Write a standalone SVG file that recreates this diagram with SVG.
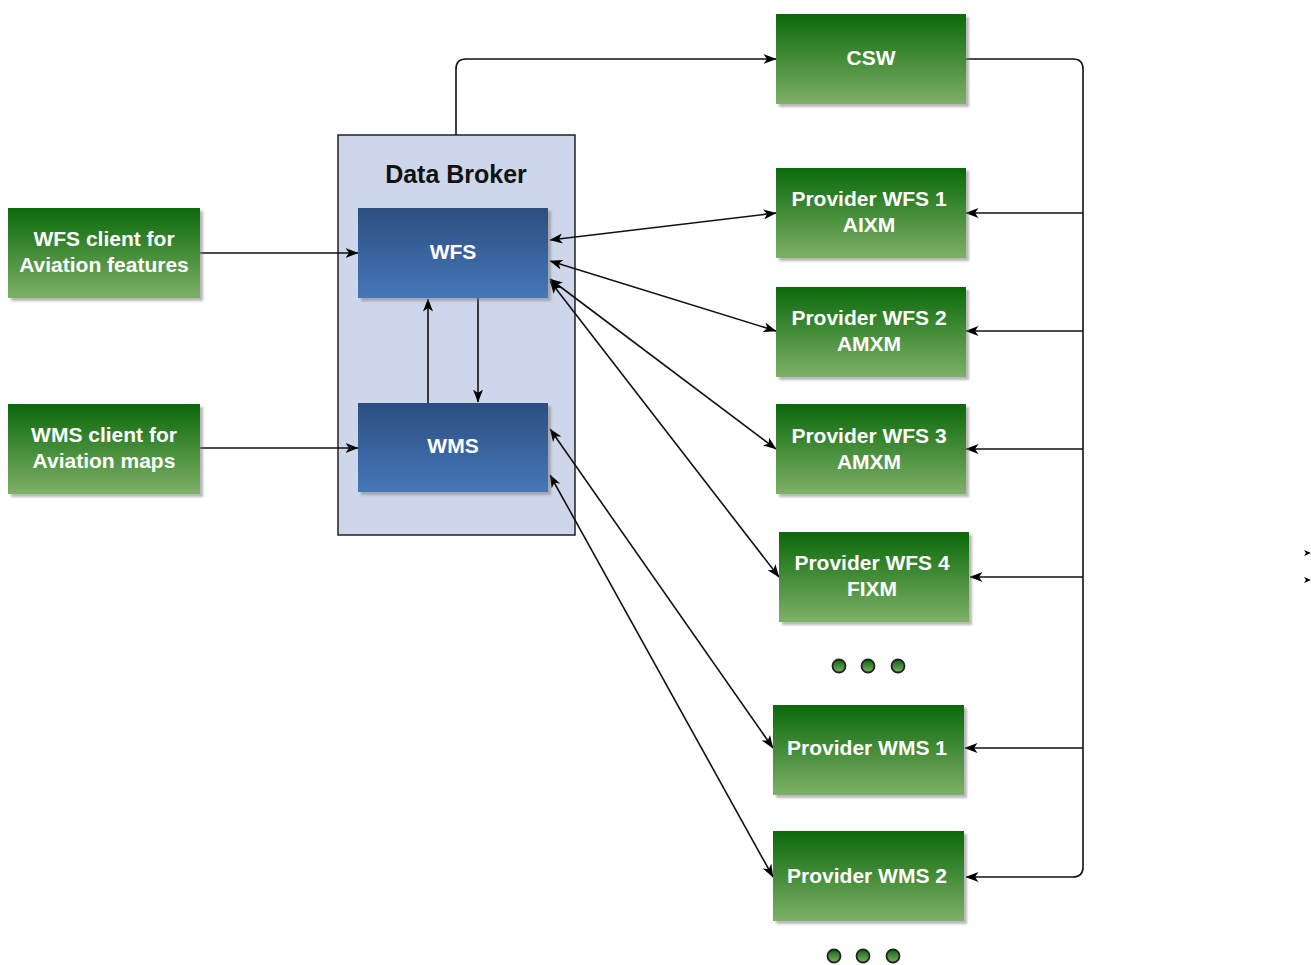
<svg xmlns="http://www.w3.org/2000/svg" width="1311" height="965" viewBox="0 0 1311 965">
  <defs>
    <linearGradient id="gGreen" x1="0" y1="0" x2="0" y2="1">
      <stop offset="0" stop-color="#0a690a"/>
      <stop offset="1" stop-color="#7eb067"/>
    </linearGradient>
    <linearGradient id="gBlue" x1="0" y1="0" x2="0" y2="1">
      <stop offset="0" stop-color="#2c4e7f"/>
      <stop offset="1" stop-color="#4577ba"/>
    </linearGradient>
    <filter id="soft" x="-10%" y="-10%" width="130%" height="130%">
      <feGaussianBlur stdDeviation="0.8"/>
    </filter>
    <marker id="arr" viewBox="0 0 13 10" refX="12.5" refY="5" markerWidth="13" markerHeight="10" markerUnits="userSpaceOnUse" orient="auto-start-reverse">
      <path d="M0,0 L13,5 L0,10 L3.5,5 Z" fill="#000"/>
    </marker>
  </defs>
  <style>
    .box { fill: url(#gGreen); }
    .inner { fill: url(#gBlue); }
    .shadow { fill: #7f7f7f; opacity: 0.55; filter: url(#soft); }
    .lbl { font-family: "Liberation Sans", Arial, sans-serif; font-weight: bold; font-size: 21px; fill: #ffffff; text-anchor: middle; }
    .title { font-family: "Liberation Sans", Arial, sans-serif; font-weight: bold; font-size: 25px; fill: #111111; text-anchor: middle; }
    .wire { fill: none; stroke: #111; stroke-width: 1.6; }
    .dot { fill: url(#gGreen); stroke: #222; stroke-width: 1.8; }
  </style>

  <rect width="1311" height="965" fill="#ffffff"/>

  <!-- Data Broker container -->
  <g id="data-broker">
    <rect x="338" y="135" width="237" height="400" fill="#cdd6ea" stroke="#222" stroke-width="1.5"/>
    <text class="title" x="456" y="183">Data Broker</text>
  </g>

  <!-- connectors -->
  <g id="connectors">
    <!-- clients into broker -->
    <path class="wire" d="M200,253 L358,253" marker-end="url(#arr)"/>
    <path class="wire" d="M200,448 L358,448" marker-end="url(#arr)"/>
    <!-- WFS <-> WMS inside broker -->
    <path class="wire" d="M428,403 L428,299" marker-end="url(#arr)"/>
    <path class="wire" d="M478,298 L478,402" marker-end="url(#arr)"/>
    <!-- broker to catalogue -->
    <path class="wire" d="M456,135 L456,69 Q456,59 466,59 L776,59" marker-end="url(#arr)"/>
    <!-- catalogue bus down the right side -->
    <path class="wire" d="M966,59 L1073,59 Q1083,59 1083,69 L1083,867 Q1083,877 1073,877 L966,877" marker-end="url(#arr)"/>
    <path class="wire" d="M1083,213 L966,213" marker-end="url(#arr)"/>
    <path class="wire" d="M1083,331 L966,331" marker-end="url(#arr)"/>
    <path class="wire" d="M1083,449 L966,449" marker-end="url(#arr)"/>
    <path class="wire" d="M1083,577 L970,577" marker-end="url(#arr)"/>
    <path class="wire" d="M1083,748 L965,748" marker-end="url(#arr)"/>
    <!-- broker services <-> providers -->
    <path class="wire" d="M550,240 L776,213" marker-start="url(#arr)" marker-end="url(#arr)"/>
    <path class="wire" d="M550,261 L776,331" marker-start="url(#arr)" marker-end="url(#arr)"/>
    <path class="wire" d="M550,279 L776,449" marker-start="url(#arr)" marker-end="url(#arr)"/>
    <path class="wire" d="M550,281 L779,577" marker-start="url(#arr)" marker-end="url(#arr)"/>
    <path class="wire" d="M550,429 L773,748" marker-start="url(#arr)" marker-end="url(#arr)"/>
    <path class="wire" d="M550,475 L773,877" marker-start="url(#arr)" marker-end="url(#arr)"/>
  </g>

  <!-- broker services -->
  <g id="wfs">
    <rect class="shadow" x="361" y="211" width="190" height="90"/>
    <rect class="inner" x="358" y="208" width="190" height="90"/>
    <text class="lbl" x="453" y="259">WFS</text>
  </g>
  <g id="wms">
    <rect class="shadow" x="361" y="406" width="190" height="89"/>
    <rect class="inner" x="358" y="403" width="190" height="89"/>
    <text class="lbl" x="453" y="453">WMS</text>
  </g>

  <!-- clients -->
  <g id="wfs-client">
    <rect class="shadow" x="11" y="211" width="192" height="90"/>
    <rect class="box" x="8" y="208" width="192" height="90"/>
    <text class="lbl" x="104" y="246">WFS client for</text>
    <text class="lbl" x="104" y="272">Aviation features</text>
  </g>
  <g id="wms-client">
    <rect class="shadow" x="11" y="407" width="192" height="90"/>
    <rect class="box" x="8" y="404" width="192" height="90"/>
    <text class="lbl" x="104" y="442">WMS client for</text>
    <text class="lbl" x="104" y="468">Aviation maps</text>
  </g>

  <!-- catalogue -->
  <g id="csw">
    <rect class="shadow" x="779" y="17" width="190" height="90"/>
    <rect class="box" x="776" y="14" width="190" height="90"/>
    <text class="lbl" x="871" y="65">CSW</text>
  </g>

  <!-- providers -->
  <g id="provider-wfs-1">
    <rect class="shadow" x="779" y="171" width="190" height="90"/>
    <rect class="box" x="776" y="168" width="190" height="90"/>
    <text class="lbl" x="869" y="206">Provider WFS 1</text>
    <text class="lbl" x="869" y="232">AIXM</text>
  </g>
  <g id="provider-wfs-2">
    <rect class="shadow" x="779" y="290" width="190" height="90"/>
    <rect class="box" x="776" y="287" width="190" height="90"/>
    <text class="lbl" x="869" y="325">Provider WFS 2</text>
    <text class="lbl" x="869" y="351">AMXM</text>
  </g>
  <g id="provider-wfs-3">
    <rect class="shadow" x="779" y="407" width="190" height="90"/>
    <rect class="box" x="776" y="404" width="190" height="90"/>
    <text class="lbl" x="869" y="443">Provider WFS 3</text>
    <text class="lbl" x="869" y="469">AMXM</text>
  </g>
  <g id="provider-wfs-4">
    <rect class="shadow" x="782" y="535" width="190" height="90"/>
    <rect class="box" x="779" y="532" width="190" height="90"/>
    <text class="lbl" x="872" y="570">Provider WFS 4</text>
    <text class="lbl" x="872" y="596">FIXM</text>
  </g>
  <g id="more-wfs">
    <circle class="dot" cx="839" cy="666" r="6.5"/>
    <circle class="dot" cx="868" cy="666" r="6.5"/>
    <circle class="dot" cx="898" cy="666" r="6.5"/>
  </g>
  <g id="provider-wms-1">
    <rect class="shadow" x="776" y="708" width="191" height="90"/>
    <rect class="box" x="773" y="705" width="191" height="90"/>
    <text class="lbl" x="867" y="755">Provider WMS 1</text>
  </g>
  <g id="provider-wms-2">
    <rect class="shadow" x="776" y="834" width="191" height="90"/>
    <rect class="box" x="773" y="831" width="191" height="90"/>
    <text class="lbl" x="867" y="883">Provider WMS 2</text>
  </g>
  <g id="more-wms">
    <circle class="dot" cx="834" cy="956" r="6.5"/>
    <circle class="dot" cx="863" cy="956" r="6.5"/>
    <circle class="dot" cx="893" cy="956" r="6.5"/>
  </g>

  <!-- arrow tips at the right edge -->
  <g id="edge-tips">
    <path d="M1304,550 L1311,553 L1304,556 L1306,553 Z" fill="#000"/>
    <path d="M1304,577 L1311,580 L1304,583 L1306,580 Z" fill="#000"/>
  </g>
</svg>
